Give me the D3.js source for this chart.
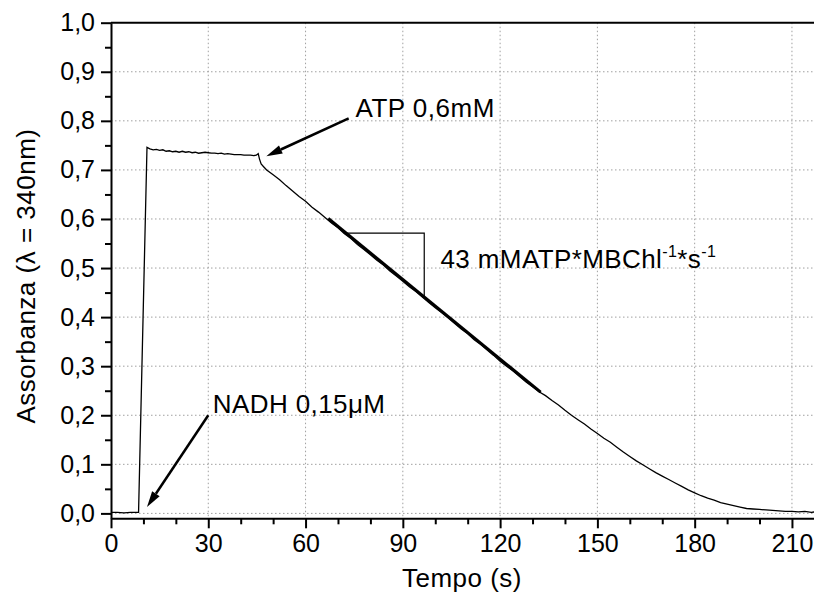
<!DOCTYPE html>
<html>
<head>
<meta charset="utf-8">
<script src="https://cdn.jsdelivr.net/npm/d3@7"></script>
<style>
  body { margin: 0; background: #fff; }
  text { font-family: "Liberation Sans", Arial, sans-serif; fill: #000; }
</style>
</head>
<body>
<div id="chart"></div>
<script>
// data (time in s, absorbance)
const tempo = [0, 2, 4, 6, 8.5, 11.1, 12, 13, 14, 15, 16, 17, 18, 19, 20, 21, 22, 23, 24, 25,
  26, 27, 28, 29, 30, 31, 32, 33, 34, 35, 36, 37, 38, 39, 40, 41, 42, 43, 44, 44.8,
  45.4, 45.8, 46.3, 47, 48, 50, 52, 54, 56, 58, 60, 62, 64, 66, 68, 70, 72, 74, 76, 78,
  80, 82, 84, 86, 88, 90, 92, 94, 96, 98, 100, 102, 104, 106, 108, 110, 112, 114, 116, 118,
  120, 122, 124, 126, 128, 130, 132, 134, 136, 138, 140, 142, 144, 146, 148, 150, 152, 154, 156, 158,
  160, 162, 164, 166, 168, 170, 172, 174, 176, 178, 180, 182, 184, 186, 188, 190, 192, 194, 196, 198,
  200, 202, 204, 206, 208, 210, 212, 214, 216, 217];
const assorbanza = [0.002, 0.002, 0.001, 0.002, 0.002, 0.746, 0.743, 0.741, 0.742, 0.740, 0.741, 0.738, 0.739, 0.737, 0.738, 0.736, 0.738, 0.736, 0.737, 0.735,
  0.736, 0.734, 0.735, 0.736, 0.735, 0.734, 0.734, 0.733, 0.734, 0.732, 0.733, 0.732, 0.731, 0.731, 0.731, 0.730, 0.730, 0.730, 0.729, 0.730,
  0.733, 0.722, 0.712, 0.707, 0.700, 0.690, 0.680, 0.668, 0.657, 0.646, 0.636, 0.624, 0.614, 0.603, 0.592, 0.582, 0.570, 0.560, 0.548, 0.538,
  0.527, 0.516, 0.506, 0.494, 0.484, 0.473, 0.462, 0.452, 0.441, 0.430, 0.419, 0.409, 0.398, 0.387, 0.376, 0.366, 0.354, 0.344, 0.333, 0.322,
  0.310, 0.300, 0.290, 0.279, 0.268, 0.258, 0.248, 0.240, 0.230, 0.221, 0.210, 0.200, 0.191, 0.182, 0.172, 0.163, 0.153, 0.145, 0.135, 0.125,
  0.116, 0.107, 0.099, 0.091, 0.083, 0.076, 0.069, 0.062, 0.055, 0.048, 0.042, 0.036, 0.031, 0.027, 0.022, 0.019, 0.016, 0.013, 0.010, 0.009,
  0.008, 0.007, 0.006, 0.005, 0.004, 0.004, 0.003, 0.004, 0.002, 0.003];

// linear fit segment and slope triangle
const fitTempo = [67, 132.5];
const fitAssorbanza = [0.601, 0.247];
const triTempo = [71.8, 96.6, 96.6];
const triAssorbanza = [0.571, 0.571, 0.441];

// ticks
const xMajor = [0, 30, 60, 90, 120, 150, 180, 210];
const xMinor = [10, 20, 40, 50, 70, 80, 100, 110, 130, 140, 160, 170, 190, 200];
const yMajor = [0, 0.1, 0.2, 0.3, 0.4, 0.5, 0.6, 0.7, 0.8, 0.9, 1.0];
const yMinor = [0.05, 0.15, 0.25, 0.35, 0.45, 0.55, 0.65, 0.75, 0.85, 0.95];

const W = 814, H = 599;
const margin = {left: 111, right: 814, top: 22.7, bottom: 518.3};
const fontSize = "26px";

const svg = d3.select("#chart")
  .append("svg")
  .attr("width", W)
  .attr("height", H);

const x = d3.scaleLinear().domain([0, 216.8]).range([margin.left, margin.right]);
const y = d3.scaleLinear().domain([-0.01, 1.0]).range([margin.bottom, margin.top]);

const fmt = d => d3.format(".1f")(d).replace(".", ",");

// grid
svg.append("g")
  .selectAll("line")
  .data(xMajor.filter(d => d > 0))
  .join("line")
  .attr("x1", d => x(d)).attr("x2", d => x(d))
  .attr("y1", margin.top).attr("y2", margin.bottom)
  .attr("stroke", "#a0a0a0")
  .attr("stroke-width", 1)
  .attr("stroke-dasharray", "1.5,2.5");
svg.append("g")
  .selectAll("line")
  .data(yMajor.filter(d => d < 1))
  .join("line")
  .attr("x1", margin.left).attr("x2", margin.right)
  .attr("y1", d => y(d)).attr("y2", d => y(d))
  .attr("stroke", "#a0a0a0")
  .attr("stroke-width", 1)
  .attr("stroke-dasharray", "1.5,2.5");

// axes
svg.append("g")
  .attr("transform", `translate(0,${margin.bottom})`)
  .call(d3.axisBottom(x).tickValues(xMajor).tickSize(10).tickSizeOuter(0).tickPadding(6));
svg.append("g")
  .attr("transform", `translate(0,${margin.bottom})`)
  .call(d3.axisBottom(x).tickValues(xMinor).tickSize(6).tickFormat(""))
  .call(g => g.select(".domain").remove());

svg.append("g")
  .attr("transform", `translate(${margin.left},0)`)
  .call(d3.axisLeft(y).tickValues(yMajor).tickSize(10).tickSizeOuter(0).tickPadding(6).tickFormat(fmt));
svg.append("g")
  .attr("transform", `translate(${margin.left},0)`)
  .call(d3.axisLeft(y).tickValues(yMinor).tickSize(6).tickFormat(""))
  .call(g => g.select(".domain").remove());

svg.selectAll(".domain, .tick line")
  .attr("stroke", "#000")
  .attr("stroke-width", 2);
svg.selectAll(".tick text")
  .style("font-size", "25px")
  .style("font-family", "'Liberation Sans', Arial, sans-serif");

// top frame line
svg.append("line")
  .attr("x1", margin.left).attr("x2", margin.right)
  .attr("y1", margin.top).attr("y2", margin.top)
  .attr("stroke", "#000")
  .attr("stroke-width", 2);

// trace
const data = tempo.map((t, i) => ({t: t, a: assorbanza[i]}));
const line = d3.line().x(d => x(d.t)).y(d => y(d.a));
svg.append("path")
  .datum(data)
  .attr("d", line)
  .attr("fill", "none")
  .attr("stroke", "#000")
  .attr("stroke-width", 1.3);

// fit line
svg.append("path")
  .datum(fitTempo.map((t, i) => ({t: t, a: fitAssorbanza[i]})))
  .attr("d", line)
  .attr("fill", "none")
  .attr("stroke", "#000")
  .attr("stroke-width", 3);

svg.append("path")
  .datum(triTempo.map((t, i) => ({t: t, a: triAssorbanza[i]})))
  .attr("d", line)
  .attr("fill", "none")
  .attr("stroke", "#000")
  .attr("stroke-width", 1.2);

// arrows
function arrow(t0, a0, t1, a1) {
  const x0 = x(t0), y0 = y(a0), x1 = x(t1), y1 = y(a1);
  const ang = Math.atan2(y1 - y0, x1 - x0);
  const len = 16, half = 4.5;
  const bx = x1 - len * Math.cos(ang), by = y1 - len * Math.sin(ang);
  svg.append("line")
    .attr("x1", x0).attr("y1", y0)
    .attr("x2", bx).attr("y2", by)
    .attr("stroke", "#000")
    .attr("stroke-width", 2.5);
  svg.append("polygon")
    .attr("points", [
      [x1, y1],
      [bx + half * Math.sin(ang), by - half * Math.cos(ang)],
      [bx - half * Math.sin(ang), by + half * Math.cos(ang)]
    ].map(p => p.join(",")).join(" "))
    .attr("fill", "#000");
}
arrow(30, 0.200, 11.1, 0.013);
arrow(73.3, 0.805, 47.9, 0.728);

// annotation text
svg.append("text")
  .attr("x", x(31.4)).attr("y", y(0.205))
  .style("font-size", fontSize)
  .style("letter-spacing", "0.4px")
  .text("NADH 0,15\u03bcM");
svg.append("text")
  .attr("x", x(75.4)).attr("y", y(0.808))
  .style("font-size", fontSize)
  .style("letter-spacing", "0.5px")
  .text("ATP 0,6mM");

const rate = svg.append("text")
  .attr("x", x(101.6)).attr("y", y(0.50))
  .style("font-size", fontSize)
  .style("letter-spacing", "0.4px");
rate.append("tspan").text("43 mMATP*MBChl");
rate.append("tspan").attr("dy", -11).style("font-size", "16px").text("-1");
rate.append("tspan").attr("dy", 11).text("*s");
rate.append("tspan").attr("dy", -11).style("font-size", "16px").text("-1");

// axis labels
svg.append("text")
  .attr("x", 462)
  .attr("y", 587)
  .attr("text-anchor", "middle")
  .style("font-size", fontSize)
  .style("letter-spacing", "0.5px")
  .text("Tempo (s)");

svg.append("text")
  .attr("transform", "translate(35,276) rotate(-90)")
  .attr("text-anchor", "middle")
  .style("font-size", fontSize)
  .style("letter-spacing", "0.5px")
  .text("Assorbanza (\u03bb = 340nm)");
</script>
</body>
</html>
